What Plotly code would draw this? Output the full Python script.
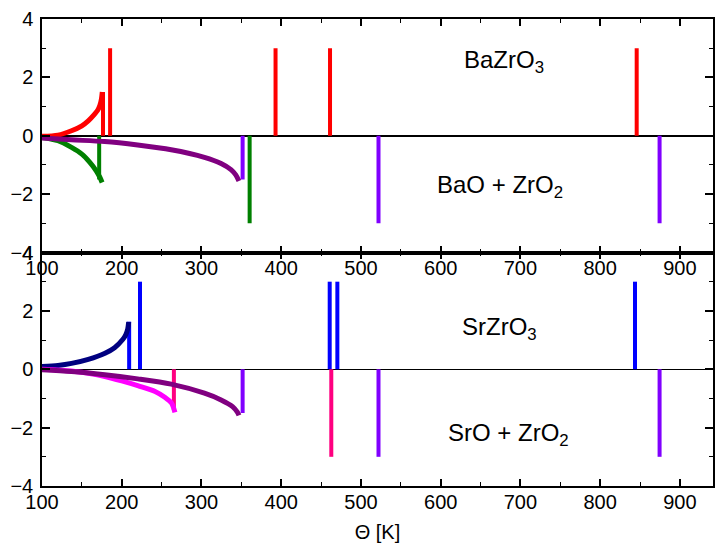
import plotly.graph_objects as go

# ---------------- data ----------------
# Top panel: BaZrO3 / BaO + ZrO2
red_curve_x = [100, 120, 137, 150, 158, 166, 170, 172.5, 174.5, 175.6]
red_curve_y = [-0.02, 0.02, 0.17, 0.34, 0.51, 0.74, 0.88, 1.03, 1.25, 1.5]
green_curve_x = [100, 120, 137, 150, 160, 168, 172.5, 175.4]
green_curve_y = [-0.06, -0.17, -0.4, -0.63, -0.91, -1.2, -1.42, -1.6]
purple_top_x = [100, 137, 178.7, 220, 262, 303.7, 324.6, 337, 343, 347]
purple_top_y = [-0.08, -0.14, -0.2, -0.32, -0.48, -0.74, -0.95, -1.16, -1.34, -1.55]

red_lines_x = [176.5, 185.4, 392.9, 461.2, 845.8]
red_lines_h = [1.5, 3, 3, 3, 3]
green_lines_x = [171.7, 360.4]
green_lines_h = [-1.5, -3]
violet_top_x = [351.6, 522, 874.5]
violet_top_h = [-1.5, -3, -3]

# Bottom panel: SrZrO3 / SrO + ZrO2
navy_curve_x = [100, 120, 137, 158, 179, 191, 201.5, 205, 207.5, 208.7]
navy_curve_y = [0.09, 0.13, 0.2, 0.34, 0.55, 0.74, 1.03, 1.18, 1.38, 1.62]
magenta_curve_x = [100, 137, 158, 179, 200, 221, 241.8, 254, 262.5, 266.7]
magenta_curve_y = [0.0, -0.06, -0.14, -0.25, -0.4, -0.57, -0.76, -0.96, -1.16, -1.48]
purple_bot_x = [100, 137, 178.7, 220, 262, 303.7, 324.6, 339, 345, 347]
purple_bot_y = [-0.02, -0.08, -0.19, -0.33, -0.51, -0.82, -1.05, -1.28, -1.47, -1.58]

blue_lines_x = [209.3, 222.9, 460.8, 470.4, 843.7]
blue_lines_h = [1.63, 3, 3, 3, 3]
pink_lines_x = [265.4, 462.8]
pink_lines_h = [-1.4, -3]
violet_bot_x = [351.6, 522, 874.5]
violet_bot_h = [-1.5, -3, -3]

x_ticks = [100, 200, 300, 400, 500, 600, 700, 800, 900]
y_ticks = [-4, -2, 0, 2, 4]

FONT = "Arial, Liberation Sans, sans-serif"

fig = go.Figure()


def add_curve(xs, ys, color, xa, ya, width=5):
    fig.add_trace(go.Scatter(x=xs, y=ys, mode="lines", xaxis=xa, yaxis=ya,
                             line=dict(color=color, width=width, shape="spline", smoothing=0.8),
                             showlegend=False, hoverinfo="skip"))


def add_sticks(xs, hs, color, xa, ya, width=4):
    px, py = [], []
    for x, h in zip(xs, hs):
        px += [x, x, None]
        py += [0, h, None]
    fig.add_trace(go.Scatter(x=px, y=py, mode="lines", xaxis=xa, yaxis=ya,
                             line=dict(color=color, width=width),
                             showlegend=False, hoverinfo="skip"))


# top panel (xaxis2 / yaxis2)
add_sticks(red_lines_x, red_lines_h, "#FF0000", "x2", "y2")
add_sticks(green_lines_x, green_lines_h, "#008000", "x2", "y2")
add_sticks(violet_top_x, violet_top_h, "#8000FF", "x2", "y2")
add_curve(red_curve_x, red_curve_y, "#FF0000", "x2", "y2")
add_curve(green_curve_x, green_curve_y, "#008000", "x2", "y2")
add_curve(purple_top_x, purple_top_y, "#800080", "x2", "y2")

# bottom panel (xaxis / yaxis)
add_sticks(blue_lines_x, blue_lines_h, "#0000FF", "x", "y")
add_sticks(pink_lines_x, pink_lines_h, "#FF0080", "x", "y")
add_sticks(violet_bot_x, violet_bot_h, "#8000FF", "x", "y")
add_curve(navy_curve_x, navy_curve_y, "#000080", "x", "y")
add_curve(magenta_curve_x, magenta_curve_y, "#FF00FF", "x", "y")
add_curve(purple_bot_x, purple_bot_y, "#800080", "x", "y")

xcommon = dict(range=[100, 941.5], tickvals=x_ticks, ticks="inside", ticklen=7,
               tickwidth=1.5, tickcolor="black", showline=True, linecolor="black",
               linewidth=1.5, mirror="ticks", showgrid=False, zeroline=False,
               ticklabelstandoff=-3,
               tickfont=dict(family=FONT, size=20, color="black"),
               minor=dict(ticks="inside", ticklen=4, dtick=50, tick0=50,
                          tickcolor="black", tickwidth=1, showgrid=False))
ycommon = dict(range=[-4, 4], tickvals=y_ticks, ticks="inside", ticklen=8,
               tickwidth=1.5, tickcolor="black", showline=True, linecolor="black",
               linewidth=1.5, mirror="ticks", showgrid=False,
               zeroline=True, zerolinecolor="black",
               ticklabelstandoff=3,
               tickfont=dict(family=FONT, size=20, color="black"),
               minor=dict(ticks="inside", ticklen=4, dtick=1, tick0=1,
                          tickcolor="black", tickwidth=1, showgrid=False))

fig.update_layout(
    width=715, height=548,
    margin=dict(l=42, r=0, t=19, b=62),
    paper_bgcolor="white", plot_bgcolor="white",
    xaxis=dict(**xcommon, anchor="y",
               title=dict(text="Θ [K]", font=dict(family=FONT, size=20, color="black"), standoff=13)),
    yaxis=dict(**ycommon, domain=[0, 0.5], anchor="x", zerolinewidth=1),
    xaxis2=dict(**xcommon, anchor="y2", matches="x"),
    yaxis2=dict(**ycommon, domain=[0.5, 1], anchor="x2", zerolinewidth=2),
)

ann_font = dict(family=FONT, size=24, color="black")
fig.add_annotation(x=679, y=2.55, xref="x2", yref="y2", text="BaZrO<sub>3</sub>",
                   showarrow=False, font=ann_font)
fig.add_annotation(x=674, y=-1.75, xref="x2", yref="y2", text="BaO + ZrO<sub>2</sub>",
                   showarrow=False, font=ann_font)
fig.add_annotation(x=673.5, y=1.38, xref="x", yref="y", text="SrZrO<sub>3</sub>",
                   showarrow=False, font=ann_font)
fig.add_annotation(x=684.5, y=-2.22, xref="x", yref="y", text="SrO + ZrO<sub>2</sub>",
                   showarrow=False, font=ann_font)

fig.write_html("out.html")
